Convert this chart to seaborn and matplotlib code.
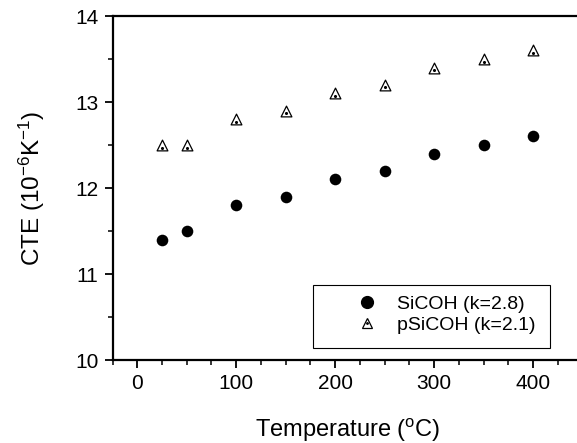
import matplotlib
matplotlib.use("Agg")
import matplotlib.pyplot as plt
import seaborn as sns
import pandas as pd
from matplotlib.lines import Line2D
from matplotlib.patches import Rectangle
from matplotlib.legend_handler import HandlerTuple

temps = [25, 50, 100, 150, 200, 250, 300, 350, 400]
sicoh = [11.4, 11.5, 11.8, 11.9, 12.1, 12.2, 12.4, 12.5, 12.6]
psicoh = [12.5, 12.5, 12.8, 12.9, 13.1, 13.2, 13.4, 13.5, 13.6]
labels = ["SiCOH (k=2.8)", "pSiCOH (k=2.1)"]

sns.set_style("ticks")
plt.rcParams['font.family'] = ['Liberation Sans', 'DejaVu Sans']
plt.rcParams['mathtext.fontset'] = 'custom'
plt.rcParams['mathtext.rm'] = 'Liberation Sans'
plt.rcParams['mathtext.it'] = 'Liberation Sans'
plt.rcParams['text.color'] = 'black'
plt.rcParams['axes.labelcolor'] = 'black'

df = pd.DataFrame({"T": temps * 2, "CTE": sicoh + psicoh,
                   "s": [labels[0]] * len(temps) + [labels[1]] * len(temps)})

W, H = 577, 443
fig = plt.figure(figsize=(W / 100, H / 100), dpi=100)
ax = fig.add_axes([112.5 / W, 1 - 360 / H, 470 / W, 344 / H])

sns.scatterplot(data=df[df.s == labels[0]], x="T", y="CTE", ax=ax, marker="o",
                color="black", s=70, edgecolor="black", linewidth=0, legend=False)
sns.scatterplot(data=df[df.s == labels[1]], x="T", y="CTE", ax=ax, marker="^",
                facecolor="white", edgecolor="black", s=60, linewidth=0.9, legend=False)
ax.scatter(temps, [v - 0.03 for v in psicoh], s=1.5, color="black", zorder=3)

ax.set_xlim(-25, 450)
ax.set_ylim(10, 14)
ax.set_xticks([0, 100, 200, 300, 400])
ax.set_xticks(range(-25, 450, 25), minor=True)
ax.set_yticks([10, 11, 12, 13, 14])
ax.set_yticks([10.5, 11.5, 12.5, 13.5], minor=True)
ax.tick_params(axis='both', which='major', direction='out', length=6, width=1.3,
               labelsize=15, colors='black', pad=4)
ax.tick_params(axis='both', which='minor', direction='out', length=3.5, width=1.3)
for sp in ['left', 'bottom', 'top']:
    ax.spines[sp].set_linewidth(1.6)
    ax.spines[sp].set_color('black')
ax.spines['right'].set_visible(False)

ax.set_xlabel("Temperature ($^{o}$C)", fontsize=17, labelpad=17)
ax.set_ylabel("CTE (10$^{-6}$K$^{-1}$)", fontsize=17.5, labelpad=20)

# legend frame
ax.add_patch(Rectangle(((313 - 112.5) / 470, (360 - 348) / 344),
                       (550 - 313) / 470, (348 - 285) / 344, transform=ax.transAxes,
                       facecolor='white', edgecolor='black', linewidth=0.8, zorder=4))

h1 = Line2D([], [], marker='o', color='black', linestyle='none', markersize=8.5)
h2a = Line2D([], [], marker='^', markerfacecolor='white', markeredgecolor='black',
             linestyle='none', markersize=7, markeredgewidth=0.9)
h2b = Line2D([], [], marker='o', color='black', linestyle='none', markersize=1)
leg = ax.legend([h1, (h2a, h2b)], labels, handler_map={tuple: HandlerTuple(ndivide=1, pad=0)},
                loc='center left', bbox_to_anchor=((352.5 - 112.5) / 470, (360 - 314.5) / 344),
                fontsize=14, frameon=False, borderpad=0, handletextpad=0.8,
                labelspacing=0.2, borderaxespad=0, handlelength=1.5)
leg.set_zorder(5)

fig.savefig("out.png", dpi=100)
